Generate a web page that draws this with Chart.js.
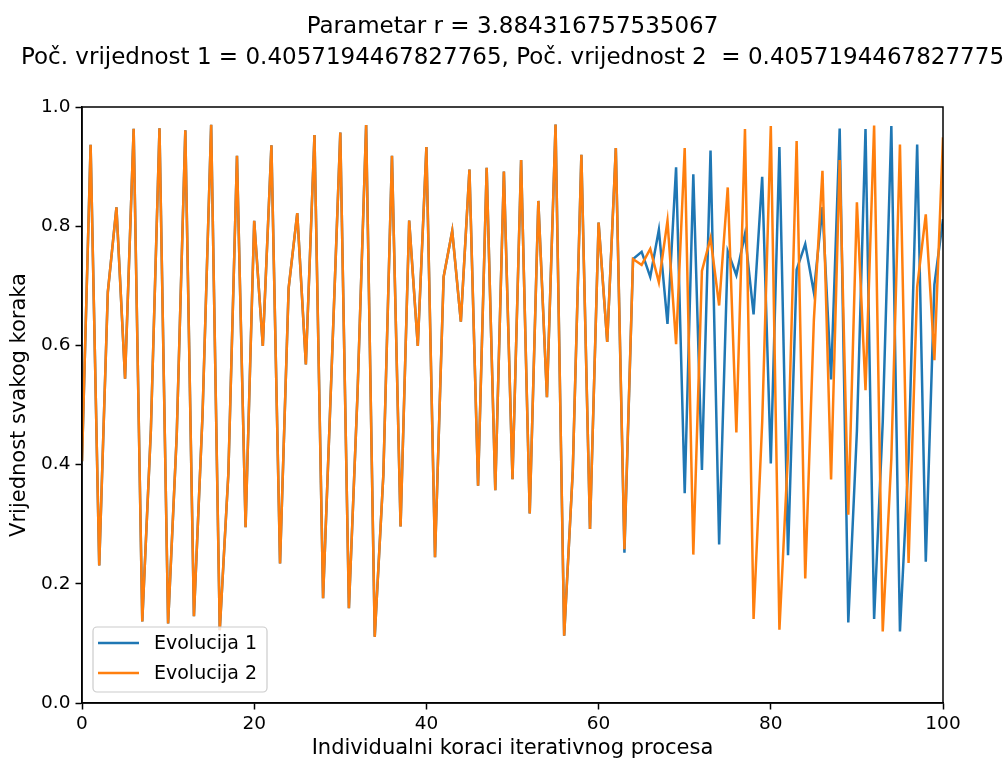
<!DOCTYPE html>
<html>
<head>
<meta charset="utf-8">
<script src="https://cdn.jsdelivr.net/npm/chart.js@4.4.1/dist/chart.umd.min.js"></script>
<style>
  html, body { margin: 0; padding: 0; background: #ffffff; }
  canvas { display: block; }
</style>
</head>
<body>
<canvas id="c" width="1006" height="763"></canvas>
<script>
const titleLines = [
  "Parametar r = 3.884316757535067",
  "Poč. vrijednost 1 = 0.4057194467827765, Poč. vrijednost 2  = 0.4057194467827775"
];
const xAxisTitle = "Individualni koraci iterativnog procesa";
const yAxisTitle = "Vrijednost svakog koraka";
const seriesLabels = ["Evolucija 1", "Evolucija 2"];
const xTicks = [0, 20, 40, 60, 80, 100];
const yTicks = [0.0, 0.2, 0.4, 0.6, 0.8, 1.0];

const evolucija1 = [
  0.4057, 0.9366, 0.2308, 0.6896, 0.8315, 0.5443, 0.9635, 0.1368, 0.4585, 0.9644,
  0.1334, 0.4489, 0.9609, 0.1458, 0.4838, 0.9701, 0.122, 0.385, 0.918, 0.295,
  0.809, 0.599, 0.9356, 0.234, 0.696, 0.822, 0.568, 0.953, 0.176, 0.563,
  0.957, 0.159, 0.519, 0.9696, 0.111, 0.383, 0.918, 0.296, 0.8094, 0.5992,
  0.9328, 0.2445, 0.715, 0.792, 0.640, 0.8951, 0.3647, 0.898, 0.357, 0.8916,
  0.3754, 0.911, 0.318, 0.8424, 0.513, 0.9704, 0.113, 0.3893, 0.920, 0.292,
  0.806, 0.606, 0.931, 0.252, 0.745, 0.757, 0.715, 0.794, 0.636, 0.899,
  0.352, 0.887, 0.391, 0.927, 0.266, 0.758, 0.718, 0.787, 0.652, 0.883,
  0.402, 0.933, 0.248, 0.727, 0.770, 0.689, 0.832, 0.543, 0.964, 0.135,
  0.456, 0.963, 0.141, 0.471, 0.968, 0.120, 0.410, 0.937, 0.237, 0.702,
  0.812
];
const evolucija2 = [
  0.4057, 0.9366, 0.2308, 0.6896, 0.8315, 0.5443, 0.9635, 0.1368, 0.4585, 0.9644,
  0.1334, 0.4489, 0.9609, 0.1458, 0.4838, 0.9701, 0.122, 0.385, 0.918, 0.295,
  0.809, 0.599, 0.9356, 0.234, 0.696, 0.822, 0.568, 0.953, 0.176, 0.563,
  0.957, 0.159, 0.519, 0.9696, 0.111, 0.383, 0.918, 0.296, 0.8094, 0.5992,
  0.9328, 0.2445, 0.715, 0.792, 0.640, 0.8951, 0.3647, 0.898, 0.357, 0.8916,
  0.3754, 0.911, 0.318, 0.8424, 0.513, 0.9704, 0.113, 0.3893, 0.920, 0.292,
  0.806, 0.606, 0.931, 0.258, 0.745, 0.735, 0.762, 0.706, 0.809, 0.602,
  0.931, 0.249, 0.725, 0.780, 0.667, 0.865, 0.454, 0.963, 0.141, 0.471,
  0.968, 0.123, 0.419, 0.943, 0.209, 0.642, 0.893, 0.375, 0.911, 0.316,
  0.840, 0.525, 0.969, 0.120, 0.410, 0.937, 0.235, 0.698, 0.820, 0.575,
  0.949
];
const steps = evolucija1.map((_, i) => i);

const colors = ["#1f77b4", "#ff7f0e"];
const FONT = "'DejaVu Sans', sans-serif";

const framePlugin = {
  id: "frame",
  afterDraw(chart) {
    const ctx = chart.ctx;
    const a = chart.chartArea;
    ctx.save();
    // axes box
    ctx.strokeStyle = "#000";
    ctx.lineWidth = 1.5;
    ctx.strokeRect(a.left, a.top, a.right - a.left, a.bottom - a.top);
    // title
    ctx.fillStyle = "#000";
    ctx.font = "23px " + FONT;
    ctx.textAlign = "center";
    ctx.textBaseline = "middle";
    const cx = (a.left + a.right) / 2;
    ctx.fillText(titleLines[0], cx, 27);
    ctx.fillText(titleLines[1], cx, 58);
    // legend
    const lx = a.left + 11, ly = a.bottom - 76, lw = 174, lh = 65, r = 4;
    ctx.beginPath();
    ctx.moveTo(lx + r, ly);
    ctx.arcTo(lx + lw, ly, lx + lw, ly + lh, r);
    ctx.arcTo(lx + lw, ly + lh, lx, ly + lh, r);
    ctx.arcTo(lx, ly + lh, lx, ly, r);
    ctx.arcTo(lx, ly, lx + lw, ly, r);
    ctx.closePath();
    ctx.fillStyle = "rgba(255,255,255,0.8)";
    ctx.fill();
    ctx.strokeStyle = "#cccccc";
    ctx.lineWidth = 1.2;
    ctx.stroke();
    ctx.font = "19px " + FONT;
    ctx.textAlign = "left";
    chart.data.datasets.forEach((ds, i) => {
      const y = ly + 16 + i * 30;
      ctx.strokeStyle = ds.borderColor;
      ctx.lineWidth = 2.5;
      ctx.beginPath();
      ctx.moveTo(lx + 5, y);
      ctx.lineTo(lx + 46, y);
      ctx.stroke();
      ctx.fillStyle = "#000";
      ctx.fillText(ds.label, lx + 61, y + 1);
    });
    ctx.restore();
  }
};

new Chart(document.getElementById("c"), {
  type: "line",
  data: {
    datasets: [
      {
        label: seriesLabels[0],
        data: steps.map((s, i) => ({ x: s, y: evolucija1[i] })),
        borderColor: colors[0],
        backgroundColor: colors[0],
        borderWidth: 2.5,
        pointRadius: 0,
        tension: 0,
        fill: false,
        order: 1
      },
      {
        label: seriesLabels[1],
        data: steps.map((s, i) => ({ x: s, y: evolucija2[i] })),
        borderColor: colors[1],
        backgroundColor: colors[1],
        borderWidth: 2.5,
        pointRadius: 0,
        tension: 0,
        fill: false,
        order: 0
      }
    ]
  },
  options: {
    responsive: false,
    devicePixelRatio: 1,
    animation: false,
    layout: { padding: { top: 107, right: 63, bottom: 0, left: 0 } },
    plugins: {
      legend: { display: false },
      title: { display: false },
      tooltip: { enabled: false }
    },
    scales: {
      x: {
        type: "linear",
        min: xTicks[0],
        max: xTicks[xTicks.length - 1],
        afterBuildTicks(scale) { scale.ticks = xTicks.map(v => ({ value: v })); },
        afterFit(scale) { scale.height = 60; },
        ticks: {
          color: "#000",
          font: { family: FONT, size: 18.5 },
          padding: 4,
          maxRotation: 0,
          callback: v => String(v)
        },
        grid: {
          drawOnChartArea: false,
          drawTicks: true,
          tickLength: 6.5,
          tickWidth: 1.5,
          tickColor: "#000"
        },
        border: { display: true, color: "#000", width: 1.5 },
        title: {
          display: true,
          text: xAxisTitle,
          color: "#000",
          font: { family: FONT, size: 21 },
          padding: { top: 0, bottom: 2 }
        }
      },
      y: {
        type: "linear",
        min: yTicks[0],
        max: yTicks[yTicks.length - 1],
        afterBuildTicks(scale) { scale.ticks = yTicks.map(v => ({ value: v })); },
        afterFit(scale) { scale.width = 82; },
        ticks: {
          color: "#000",
          font: { family: FONT, size: 18.5 },
          padding: 5,
          callback: v => Number(v).toFixed(1)
        },
        grid: {
          drawOnChartArea: false,
          drawTicks: true,
          tickLength: 6.5,
          tickWidth: 1.5,
          tickColor: "#000"
        },
        border: { display: true, color: "#000", width: 1.5 },
        title: {
          display: true,
          text: yAxisTitle,
          color: "#000",
          font: { family: FONT, size: 21 },
          padding: { top: 7, bottom: 0 }
        }
      }
    }
  },
  plugins: [framePlugin]
});
</script>
</body>
</html>
